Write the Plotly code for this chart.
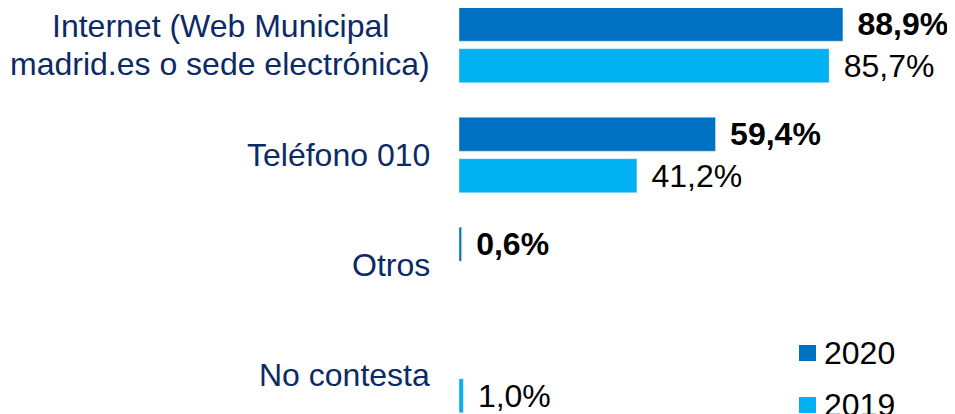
import plotly.graph_objects as go

categories = ["Internet (Web Municipal<br>madrid.es o sede electrónica)", "Teléfono 010", "Otros", "No contesta"]
series_names = ["2020", "2019"]
values_2020 = [88.9, 59.4, 0.6, None]
values_2019 = [85.7, 41.2, None, 1.0]

color_2020 = "#0070C0"
color_2019 = "#00B0F0"
series_colors = [color_2020, color_2019]
label_color = "#0C2A66"
FONT = "Liberation Sans, Arial, sans-serif"

def fmt(v):
    return "" if v is None else "\u00a0\u200a" + f"{v:.1f}%".replace(".", ",")

fig = go.Figure()
fig.add_trace(go.Bar(
    y=categories, x=values_2020, orientation="h", name=series_names[0],
    marker=dict(color=color_2020), showlegend=False,
    text=[fmt(v) for v in values_2020], textposition="outside",
    textfont=dict(family=FONT, size=32, color="black", weight="bold"),
    cliponaxis=False, constraintext="none",
))
fig.add_trace(go.Bar(
    y=categories, x=values_2019, orientation="h", name=series_names[1],
    marker=dict(color=color_2019), showlegend=False,
    text=[fmt(v) for v in values_2019], textposition="outside",
    textfont=dict(family=FONT, size=32, color="black"),
    cliponaxis=False, constraintext="none",
))

# category labels (centered multi-line, right-aligned single line)
LINE_GAP = 37.5
for cat in categories:
    lines = cat.split("<br>")
    n = len(lines)
    for k, line in enumerate(lines):
        multi = n > 1
        fig.add_annotation(
            x=0, xref="paper", y=cat, yref="y",
            xanchor="center" if multi else "right", yanchor="middle",
            xshift=-239 if multi else -27,
            yshift=((n - 1) / 2 - k) * LINE_GAP,
            text=line, showarrow=False,
            font=dict(family=FONT, size=32, color=label_color),
        )

# manual legend (bottom right, partly cut off like the original)
legend_rows = [(0.1860, 0.1473, 0.1667), (0.0604, 0.0217, 0.0411)]
for nm, col, (y1, y0, yt) in zip(series_names, series_colors, legend_rows):
    fig.add_shape(type="rect", xref="paper", yref="paper",
                  x0=0.6746, x1=0.7083, y0=y0, y1=y1,
                  fillcolor=col, line=dict(width=0))
    fig.add_annotation(x=0.7202, y=yt, xref="paper", yref="paper",
                       xanchor="left", yanchor="middle", text=nm,
                       showarrow=False,
                       font=dict(family=FONT, size=32, color="black"))

fig.update_layout(
    width=955, height=414,
    margin=dict(l=451, r=0, t=0, b=0),
    paper_bgcolor="white", plot_bgcolor="white",
    barmode="group", bargap=0.245, bargroupgap=0.18,
    font=dict(family=FONT, size=32, color="black"),
    xaxis=dict(range=[0, 116.7], visible=False),
    yaxis=dict(range=[3.427, -0.336], showticklabels=False, showgrid=False,
               zeroline=False, showline=False, ticks=""),
    showlegend=False,
)

fig.write_html("out.html")
